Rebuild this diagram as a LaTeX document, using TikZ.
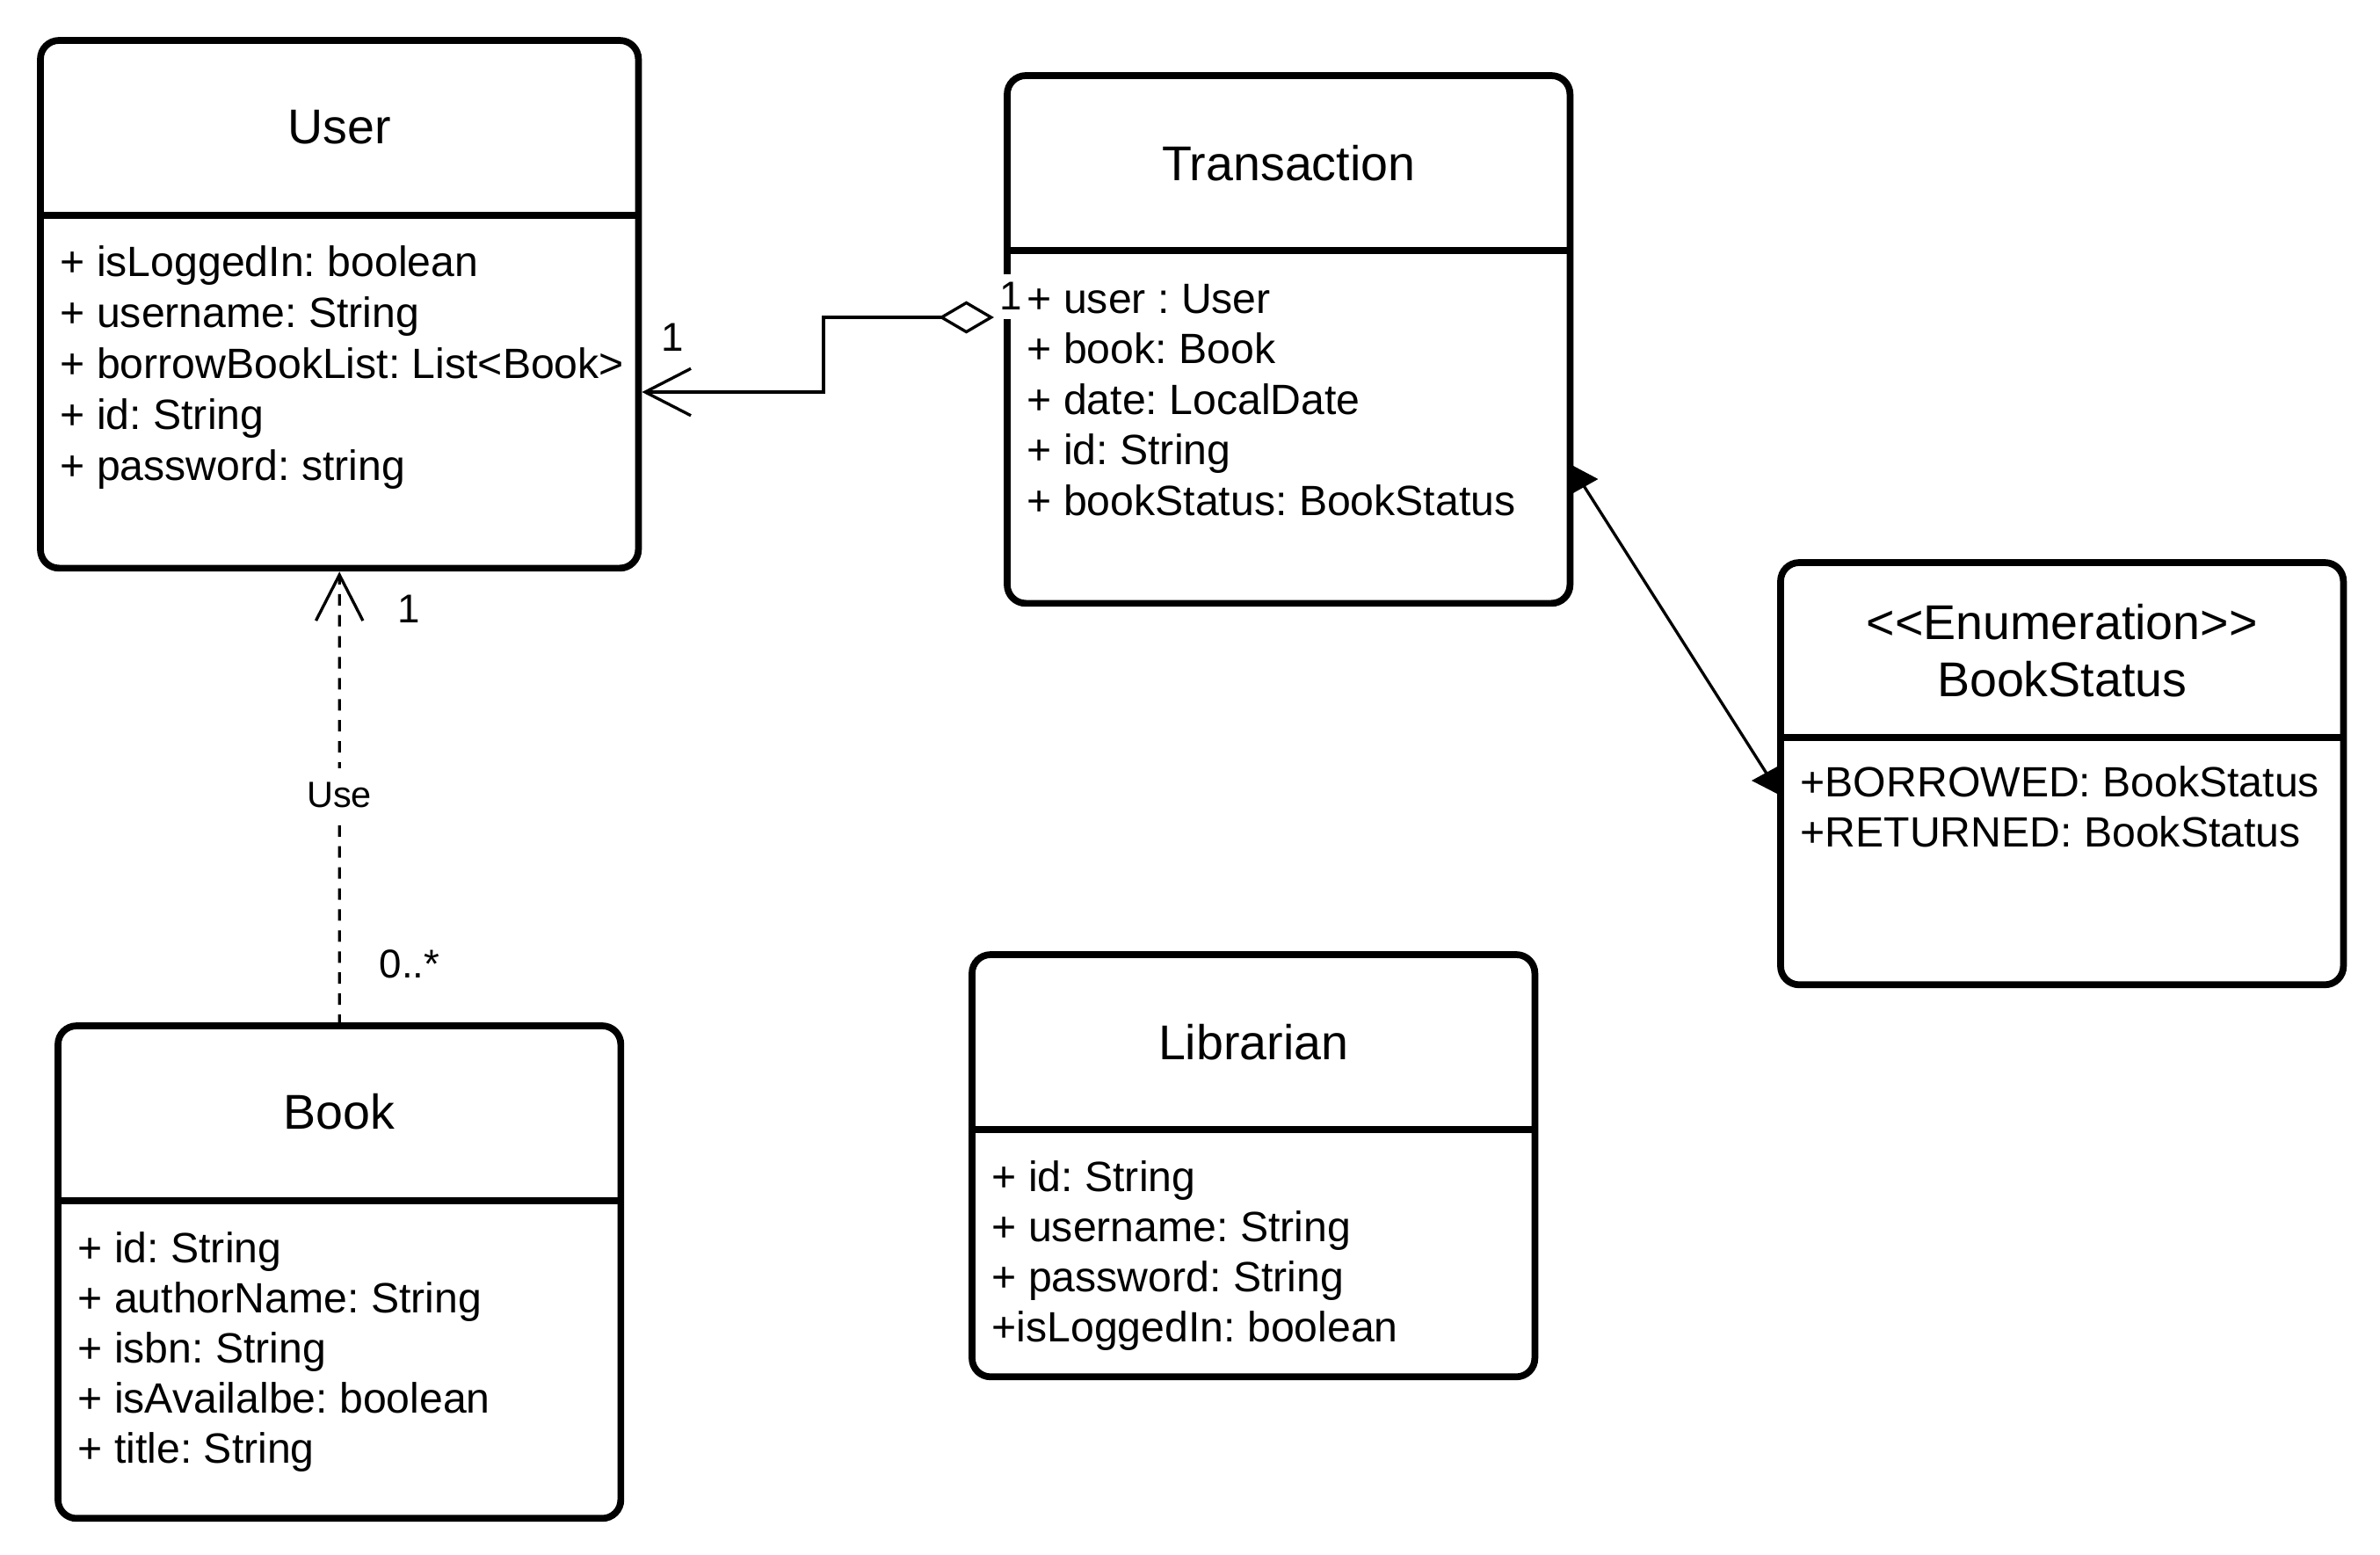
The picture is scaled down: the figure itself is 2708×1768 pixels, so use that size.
\documentclass[tikz,border=0pt]{standalone}
\usepackage{fontspec}
\setmainfont{Liberation Sans}
\frenchspacing
\usetikzlibrary{arrows.meta,calc}
\begin{document}
\begin{tikzpicture}[x=0.01cm,y=-0.01cm,
  classbox/.style={draw, line width=2.2pt, rounded corners=6pt, fill=white,
    inner sep=0pt, outer sep=0pt, anchor=north west},
  divider/.style={line width=2.2pt},
  titletext/.style={font=\fontsize{15.8}{19}\selectfont, inner sep=0pt, anchor=center},
  attr/.style={font=\fontsize{13.7}{16}\selectfont, inner sep=0pt, anchor=base west},
  mult/.style={font=\fontsize{13}{16}\selectfont, inner sep=0pt, anchor=center},
  conn/.style={line width=0.95pt},
  openv/.tip={Straight Barb[length=14.8pt,width=15.2pt]},
  opendiamond/.tip={Diamond[open,length=17.9pt,width=10.5pt]}
]
\useasboundingbox (0,0) rectangle (2708,1768);

% ---------- class boxes ----------
\node[classbox, minimum width=6.8cm, minimum height=6cm] (user) at (46,46) {};
\node[classbox, minimum width=6.4cm, minimum height=6cm] (trans) at (1146,86) {};
\node[classbox, minimum width=6.4cm, minimum height=4.8cm] (bs) at (2026,640) {};
\node[classbox, minimum width=6.4cm, minimum height=4.8cm] (lib) at (1106,1086) {};
\node[classbox, minimum width=6.4cm, minimum height=5.6cm] (book) at (66,1167) {};

% dividers
\foreach \b in {user,trans,bs,lib,book}
  \draw[divider] ($(\b.north west)+(0,199)$) -- ($(\b.north east)+(0,199)$);

% titles
\node[titletext] (userT) at ($(user.north)+(0,99)$) {User};
\node[titletext] (transT) at ($(trans.north)+(0,100)$) {Transaction};
\node[titletext] (bsT1) at ($(bs.north)+(0,68)$) {<\kern0pt<Enumeration>\kern0pt>};
\node[titletext] (bsT2) at ($(bs.north)+(0,133)$) {BookStatus};
\node[titletext] (libT) at ($(lib.north)+(0,100)$) {Librarian};
\node[titletext] (bookT) at ($(book.north)+(0,98)$) {Book};

% attributes
\foreach \t [count=\i from 0] in {{+ isLoggedIn: boolean},{+ username: String},{+ borrowBookList: List<Book>},{+ id: String},{+ password: string}}
  \node[attr] (userA\i) at ($(user.north west)+(22,268+58*\i)$) {\t};
\foreach \t [count=\i from 0] in {{+ user : User},{+ book: Book},{+ date: LocalDate},{+ id: String},{+ bookStatus: BookStatus}}
  \node[attr] (transA\i) at ($(trans.north west)+(22,270+57.5*\i)$) {\t};
\foreach \t [count=\i from 0] in {{+BORROWED: BookStatus},{+RETURNED: BookStatus}}
  \node[attr] (bsA\i) at ($(bs.north west)+(22,266+57*\i)$) {\t};
\foreach \t [count=\i from 0] in {{+ id: String},{+ username: String},{+ password: String},{+isLoggedIn: boolean}}
  \node[attr] (libA\i) at ($(lib.north west)+(22,269+57*\i)$) {\t};
\foreach \t [count=\i from 0] in {{+ id: String},{+ authorName: String},{+ isbn: String},{+ isAvailalbe: boolean},{+ title: String}}
  \node[attr] (bookA\i) at ($(book.north west)+(22,269+57*\i)$) {\t};

% ---------- connectors ----------
% Transaction -> User (aggregation, navigable)
\coordinate (aggA) at ($(trans.north west)+(-15,275)$);
\coordinate (aggB) at ($(user.north east)+(4,400)$);
\draw[conn, opendiamond-openv] (aggA) -- ++(-194,0) |- (aggB);
\node[mult] (m1) at (765,384) {1};
\node[mult, fill=white, inner xsep=0.6pt, minimum height=14.5pt] (m2) at (1150,337) {1};

% Book -> User (dependency "Use")
\draw[conn, dash pattern=on 3.7pt off 3.1pt, -openv] (book.north) -- ($(user.south)+(0,4)$);
\node[font=\fontsize{11.8}{14}\selectfont, fill=white, inner sep=2pt, minimum height=17pt] (use) at (386,904) {Use};
\node[mult] (m3) at (465,693) {1};
\node[mult] (m4) at (466,1097) {0..*};

% Transaction -- BookStatus (composition)
\draw[conn] ($(trans.north east)+(0,442)$) -- ($(bs.north west)+(0,265)$);
\fill ($(trans.north east)+(0,442)$) -- ++(32,17) -- ++(-32,18) -- cycle;
\fill ($(bs.north west)+(0,230)$) -- ++(-33,18) -- ++(33,17) -- cycle;
\end{tikzpicture}
\end{document}
